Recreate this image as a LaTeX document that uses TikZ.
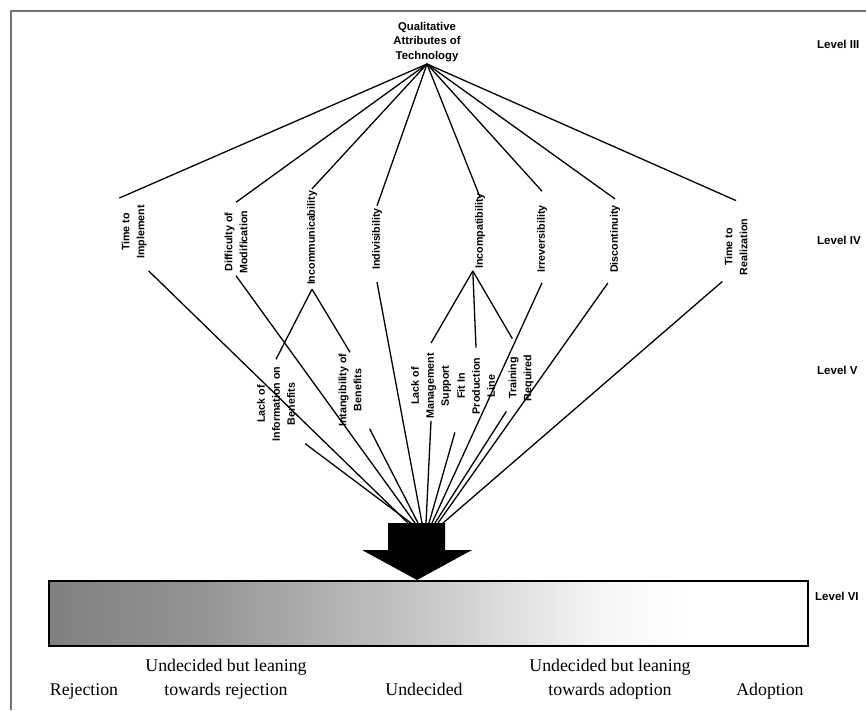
\documentclass[tikz,border=0pt]{standalone}
\usepackage{fontspec}
\setmainfont{Liberation Serif}
\setsansfont{Liberation Sans}
\usetikzlibrary{positioning}

% grey fading out to white towards adoption (25bp..75bp is what fills the box)
\pgfdeclarehorizontalshading{leaning}{100bp}{color(0bp)=(black!50); color(25bp)=(black!50); color(35bp)=(black!42); color(49bp)=(black!23); color(61bp)=(black!4); color(67bp)=(white); color(100bp)=(white)}

\begin{document}
\begin{tikzpicture}[x=1pt,y=-1pt,
    attr/.style={font=\attrfontsize\sffamily\bfseries,align=center,rotate=90,inner sep=2pt},
    link/.style={line width=1.3pt},
    lvl/.style={font=\levelfontsize\sffamily\bfseries,anchor=west,inner sep=0pt},
    verdict/.style={font=\verdictfontsize,align=center,anchor=base,inner sep=0pt}]
    \providecommand{\attrfontsize}{\fontsize{10.7}{15}\selectfont}
    \providecommand{\rootfontsize}{\fontsize{11.3}{14.5}\selectfont}
    \providecommand{\levelfontsize}{\fontsize{11.5}{12}\selectfont}
    \providecommand{\verdictfontsize}{\fontsize{17.8}{24}\selectfont}
    \useasboundingbox (0,0) rectangle (866,710);
    \draw[black!55,line width=1.5pt] (11,710) -- (11,11) -- (866,11);

    % level III
    \node[font=\rootfontsize\sffamily\bfseries,align=center,inner sep=2pt] (qat) at (427,42) {Qualitative\\Attributes of\\Technology};

    % level IV
    \node[attr] (tti) at (134,232) {Time to\\Implement};
    \node[attr] (dom) at (236,242) {Difficulty of\\Modification};
    \node[attr] (inc) at (312,238) {Incommunicability};
    \node[attr] (ind) at (377,239) {Indivisibility};
    \node[attr] (icp) at (480,231) {Incompatibility};
    \node[attr] (irr) at (542,239) {Irreversibility};
    \node[attr] (dis) at (615,239) {Discontinuity};
    \node[attr] (ttr) at (736,247) {Time to\\Realization};

    % level V
    \node[attr] (info) at (276,404) {Lack of\\Information on\\Benefits};
    \node[attr] (intan) at (350,390) {Intangibility of\\Benefits};
    \node[attr] (mgmt) at (431,386) {Lack of\\Management\\Support};
    \node[attr] (line) at (476,386) {Fit In\\Production\\Line};
    \node[attr] (train) at (521,378) {Training\\Required};

    % scale and arrow
    \shadedraw[shading=leaning,line width=1.8pt] (49,581) rectangle (808,646);
    \fill (388,523) -- (445,523) -- (445,550) -- (472,550) -- (417,580) -- (362,550) -- (388,550) -- cycle;
    \coordinate (sink) at (420,523);

    \foreach \n/\a/\g in {tti/north east/5,dom/east/6,inc/east/0,ind/east/0,icp/east/-6,irr/east/12,dis/east/4,ttr/east/16}
        \draw[link] (qat.south) -- ([yshift=\g pt]\n.\a);
    \draw[link] ([yshift=-2pt]inc.west) -- ([yshift=5pt]info.east);
    \draw[link] ([yshift=-2pt]inc.west) -- ([yshift=-1pt]intan.east);
    \draw[link] (icp.north west) -- ([yshift=8pt]mgmt.east);
    \draw[link] (icp.north west) -- ([yshift=8pt]line.east);
    \draw[link] (icp.north west) -- ([yshift=14pt,xshift=6pt]train.north east);

    \foreach \n/\a/\dx/\g/\s in {tti/south west/0/-10/-12,info/south west/8/0/-9,dom/west/0/0/-5,intan/south west/6/0/-2,ind/west/0/-10/2,mgmt/west/0/0/6,line/north west/0/-16/9,irr/west/0/-8/12,train/north west/0/-8/15,dis/north west/0/-8/18,ttr/north west/0/-4/23}
        \draw[link] ([xshift=\dx pt,yshift=\g pt]\n.\a) -- ([xshift=\s pt]sink);

    \node[lvl] (l3) at (817,44) {Level III};
    \node[lvl] (l4) at (817,240) {Level IV};
    \node[lvl] (l5) at (817,370) {Level V};
    \node[lvl] (l6) at (815,596) {Level VI};

    \node[verdict] (rej) at (84,695) {Rejection};
    \node[verdict] (lrej) at (226,695) {Undecided but leaning\\towards rejection};
    \node[verdict] (und) at (424,695) {Undecided};
    \node[verdict] (ladp) at (610,695) {Undecided but leaning\\towards adoption};
    \node[verdict] (adp) at (770,695) {Adoption};
\end{tikzpicture}
\end{document}
